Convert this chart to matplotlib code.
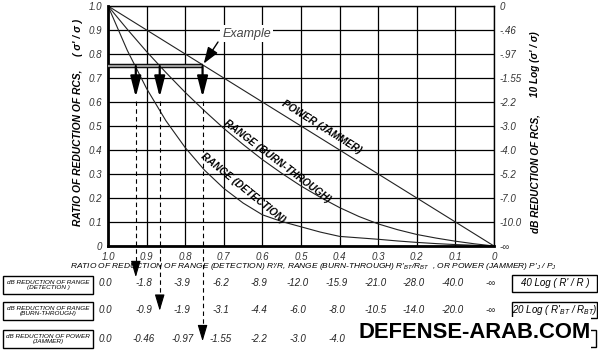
import numpy as np
import matplotlib
matplotlib.use('Agg')
import matplotlib.pyplot as plt
from matplotlib.patches import Rectangle
from matplotlib import transforms

plt.rcParams['font.family'] = ['Liberation Sans', 'DejaVu Sans']
plt.rcParams['mathtext.fontset'] = 'custom'
plt.rcParams['mathtext.it'] = 'Liberation Sans:italic'
plt.rcParams['mathtext.rm'] = 'Liberation Sans:italic'
plt.rcParams['mathtext.default'] = 'it'

# ratio of reduction (x axis) and sigma'/sigma read for each curve
ratio = [1.0, 0.95, 0.9, 0.85, 0.8, 0.75, 0.7, 0.65, 0.6, 0.55, 0.5,
         0.45, 0.4, 0.35, 0.3, 0.25, 0.2, 0.15, 0.1, 0.05, 0.0]
power = [1.0, 0.95, 0.9, 0.85, 0.8, 0.75, 0.7, 0.65, 0.6, 0.55, 0.5,
         0.45, 0.4, 0.35, 0.3, 0.25, 0.2, 0.15, 0.1, 0.05, 0.0]
burn = [1.0, 0.903, 0.81, 0.723, 0.64, 0.563, 0.49, 0.423, 0.36, 0.303, 0.25,
        0.203, 0.16, 0.123, 0.092, 0.068, 0.048, 0.033, 0.02, 0.009, 0.0]
det = [1.0, 0.815, 0.656, 0.522, 0.41, 0.316, 0.24, 0.179, 0.13, 0.102, 0.08,
       0.058, 0.04, 0.034, 0.028, 0.021, 0.015, 0.01, 0.006, 0.003, 0.0]

xticks = [1.0, 0.9, 0.8, 0.7, 0.6, 0.5, 0.4, 0.3, 0.2, 0.1, 0.0]
xtick_labels = ['1.0', '0.9', '0.8', '0.7', '0.6', '0.5', '0.4', '0.3', '0.2', '0.1', '0']
yticks = [0.0, 0.1, 0.2, 0.3, 0.4, 0.5, 0.6, 0.7, 0.8, 0.9, 1.0]
ytick_labels = ['0', '0.1', '0.2', '0.3', '0.4', '0.5', '0.6', '0.7', '0.8', '0.9', '1.0']
db_labels = ['-\u221e', '-10.0', '-7.0', '-5.2', '-4.0', '-3.0', '-2.2', '-1.55', '-.97', '-.46', '0']

row_det = ['0.0', '-1.8', '-3.9', '-6.2', '-8.9', '-12.0', '-15.9', '-21.0', '-28.0', '-40.0', '-\u221e']
row_burn = ['0.0', '-0.9', '-1.9', '-3.1', '-4.4', '-6.0', '-8.0', '-10.5', '-14.0', '-20.0', '-\u221e']
row_pow = ['0.0', '-0.46', '-0.97', '-1.55', '-2.2', '-3.0', '-4.0']  # rest hidden by the watermark

example_level = 0.75
example_x = [0.928, 0.866, 0.755]   # where the 0.75 line meets each curve

W, H = 598, 351
def fx(px):
    return px / W
def fy(py):
    return 1 - py / H

fig = plt.figure(figsize=(W / 100, H / 100), dpi=100)
ax = fig.add_axes([fx(108), fy(246), 386 / W, 240 / H])

ax.plot(ratio, power, color='#222', lw=0.8)
ax.plot(ratio, burn, color='#222', lw=0.8)
ax.plot(ratio, det, color='#222', lw=0.8)

ax.set_xlim(1.0, 0.0)
ax.set_ylim(0, 1)
ax.set_xticks(xticks)
ax.set_xticklabels(xtick_labels, fontsize=7, style='italic', color='#333')
ax.set_yticks(yticks)
ax.set_yticklabels(ytick_labels, fontsize=7, style='italic', color='#333')
ax.tick_params(length=0, pad=4)
ax.grid(True, color='black', lw=0.9)
for s in ['left', 'bottom']:
    ax.spines[s].set_linewidth(2.0)
for s in ['top', 'right']:
    ax.spines[s].set_linewidth(1.0)

ax2 = ax.twinx()
ax2.set_ylim(0, 1)
ax2.set_yticks(yticks)
ax2.set_yticklabels(db_labels, fontsize=7, style='italic', color='#333')
ax2.tick_params(length=0, pad=4)
for s in ax2.spines.values():
    s.set_visible(False)

# axis titles
fig.text(fx(78), fy(148), 'RATIO OF REDUCTION OF RCS,', rotation=90, ha='center', va='center',
         fontsize=7.4, fontweight='bold', style='italic')
fig.text(fx(78), fy(37), "( \u03c3' / \u03c3 )", rotation=90, ha='center', va='center',
         fontsize=7.4, fontweight='bold', style='italic')
fig.text(fx(535), fy(174), 'dB REDUCTION OF RCS,', rotation=90, ha='center', va='center',
         fontsize=7.2, fontweight='bold', style='italic')
fig.text(fx(535), fy(64), "10 Log (\u03c3' / \u03c3)", rotation=90, ha='center', va='center',
         fontsize=7.2, fontweight='bold', style='italic')

fig.text(fx(313), fy(267),
         r"RATIO OF REDUCTION OF RANGE (DETECTION) R'/R, RANGE (BURN-THROUGH) R'$_{BT}$/R$_{BT}$"
         r"  , OR POWER (JAMMER) P'$_{J}$ / P$_{J}$",
         ha='center', va='center', fontsize=6.0, style='italic')

# curve labels
ax.text(0.446, 0.495, 'POWER (JAMMER)', rotation=-32, ha='center', va='center',
        fontsize=7.3, fontweight='bold', style='italic', rotation_mode='anchor')
ax.text(0.562, 0.354, 'RANGE (BURN-THROUGH)', rotation=-37, ha='center', va='center',
        fontsize=7.3, fontweight='bold', style='italic', rotation_mode='anchor')
ax.text(0.650, 0.242, 'RANGE (DETECTION)', rotation=-39, ha='center', va='center',
        fontsize=7.3, fontweight='bold', style='italic', rotation_mode='anchor')

# example construction
ax.plot([1.0, example_x[2]], [example_level, example_level], color='black', lw=3.2,
        solid_capstyle='butt', zorder=4)
ax.plot([1.0, example_x[2]], [example_level, example_level], color='#9a9a9a', lw=1.6,
        solid_capstyle='butt', zorder=5)
ax.text(0.64, 0.885, 'Example', ha='center', va='center', fontsize=9, style='italic',
        color='#444', bbox=dict(facecolor='white', edgecolor='none', pad=1.5), zorder=6)
ax.annotate('', xy=(example_x[2] - 0.003, example_level + 0.01), xytext=(0.715, 0.85),
            arrowprops=dict(arrowstyle='-|>,head_length=1.0,head_width=0.35', color='black',
                            lw=1.0, mutation_scale=10, shrinkA=0, shrinkB=0), zorder=7)

tips = [-0.13, -0.27, -0.397]
for xv, tip in zip(example_x, tips):
    ax.annotate('', xy=(xv, 0.62), xytext=(xv, example_level),
                arrowprops=dict(arrowstyle='-|>,head_length=1.25,head_width=0.32', color='black',
                                lw=1.6, mutation_scale=10, shrinkA=0, shrinkB=0), zorder=7)
    ax.plot([xv, xv], [0.605, tip + 0.03], color='black', lw=0.8, ls=(0, (4, 3)),
            clip_on=False, zorder=7)
    ax.annotate('', xy=(xv, tip), xytext=(xv, tip + 0.04),
                arrowprops=dict(arrowstyle='-|>,head_length=1.0,head_width=0.3', color='black',
                                lw=0.8, mutation_scale=10, shrinkA=0, shrinkB=0),
                annotation_clip=False, zorder=7)

# table below the chart
blend = transforms.blended_transform_factory(ax.transData, fig.transFigure)
rows = [(row_det, 283), (row_burn, 310), (row_pow, 339)]
for vals, py in rows:
    for xv, v in zip(xticks, vals):
        fig.text(xv + 0.008, fy(py), v, transform=blend, ha='center', va='center',
                 fontsize=7, style='italic', color='#222')

left_boxes = [("dB REDUCTION OF RANGE\n(DETECTION )", 276, 294),
              ("dB REDUCTION OF RANGE\n(BURN-THROUGH)", 302, 320),
              ("dB REDUCTION OF POWER\n(JAMMER)", 330, 348)]
for txt, y0, y1 in left_boxes:
    fig.add_artist(Rectangle((fx(3), fy(y1)), 90 / W, (y1 - y0) / H, transform=fig.transFigure,
                             facecolor='white', edgecolor='black', lw=1.0))
    fig.text(fx(48), fy((y0 + y1) / 2), txt, ha='center', va='center', fontsize=4.6,
             style='italic', linespacing=1.0)

right_boxes = [("40 Log ( R' / R )", 275, 292),
               (r"20 Log ( R'$_{BT}$ / R$_{BT}$)", 302, 318)]
for txt, y0, y1 in right_boxes:
    fig.add_artist(Rectangle((fx(512), fy(y1)), 85 / W, (y1 - y0) / H, transform=fig.transFigure,
                             facecolor='white', edgecolor='black', lw=1.0))
    fig.text(fx(555), fy((y0 + y1) / 2), txt, ha='center', va='center', fontsize=7,
             style='italic')
# third box is mostly hidden behind the watermark
fig.add_artist(Rectangle((fx(512), fy(347)), 84 / W, 17 / H, transform=fig.transFigure,
                         facecolor='white', edgecolor='black', lw=1.0))

# watermark
fig.add_artist(Rectangle((fx(355), fy(350)), 236 / W, 33 / H, transform=fig.transFigure,
                         facecolor='white', edgecolor='none', zorder=10))
fig.text(fx(475), fy(333), 'DEFENSE-ARAB.COM', ha='center', va='center', fontsize=15.8,
         fontweight='bold', zorder=11)

fig.savefig('out.png', dpi=100)
